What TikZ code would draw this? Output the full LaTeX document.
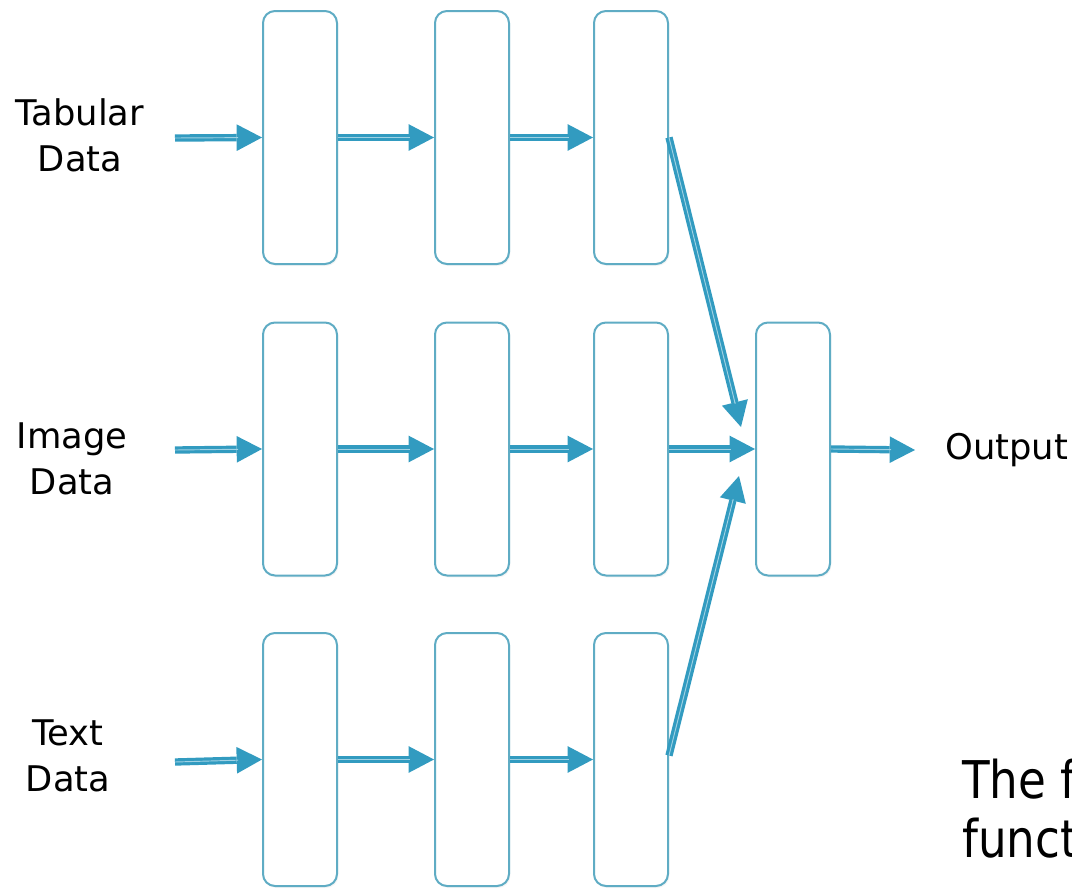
\documentclass[tikz,border=0pt]{standalone}
\usepackage{fontspec}
\setmainfont{DejaVu Sans}
\newfontfamily\narrowfont[FakeStretch=0.87]{DejaVu Sans}
\usetikzlibrary{arrows.meta,shadows,calc}
\definecolor{arrowc}{RGB}{50,155,192}
\definecolor{arrowl}{RGB}{160,210,228}
\definecolor{boxc}{RGB}{95,172,196}
\tikzset{
  layerbox/.style={draw=boxc, line width=1.5pt, rounded corners=9pt, fill=white,
    minimum width=55.5pt, minimum height=189.75pt, inner sep=0pt,
    drop shadow={opacity=0.08, shadow xshift=1pt, shadow yshift=-1.5pt}},
  flow/.style={draw=arrowc, line width=5.5pt,
    -{Triangle[length=19pt,width=20pt,line width=0pt]},
    postaction={draw=arrowl, line width=0.7pt, -, shorten >=18pt}},
  lbl/.style={font=\fontsize{26.5pt}{34.5pt}\selectfont, align=center, inner sep=0pt},
  big/.style={font=\narrowfont\fontsize{39pt}{44pt}\selectfont, inner sep=0pt, anchor=base west}
}
\begin{document}
\begin{tikzpicture}[x=0.75pt,y=-0.75pt]
\useasboundingbox (0,0) rectangle (1072,889);
% boxes
\foreach \c/\x in {1/300,2/472,3/631}{
  \node[layerbox] (b1\c) at (\x,137.5) {};
  \node[layerbox] (b2\c) at (\x,449) {};
  \node[layerbox] (b3\c) at (\x,759.5) {};
}
\node[layerbox] (b24) at (793,449) {};
% labels
\node[lbl] (l1) at (80,135) {Tabular\\Data};
\node[lbl] (l2) at (72,459) {Image\\Data};
\node[lbl] (l3) at (68,756) {Text\\Data};
\node[lbl, anchor=west] (out) at (945,450) {Output};
% input start points
\coordinate (s1) at (175,138);
\coordinate (s2) at (175,450);
\coordinate (s3) at (175,762);
\coordinate (t1) at (741,427);
\coordinate (t3) at (739,476);
\coordinate (o) at (915,450);
% arrows
\draw[flow] (s1) -- (b11.west);
\draw[flow] (s2) -- (b21.west);
\draw[flow] (s3) -- (b31.west);
\foreach \r in {1,2,3}{
  \draw[flow] (b\r1.east) -- (b\r2.west);
  \draw[flow] (b\r2.east) -- (b\r3.west);
}
\draw[flow] (b23.east) -- (b24.west);
\draw[flow] (b13.east) -- (t1);
\draw[flow] ([yshift=3pt]b33.east) -- (t3);
\draw[flow] (b24.east) -- (o);
% cut-off text
\begin{scope}
\clip (0,0) rectangle (1072,889);
\node[big] (c1) at (962,798) {The f};
\node[big] (c2) at (962,857) {funct};
\end{scope}
\end{tikzpicture}
\end{document}
